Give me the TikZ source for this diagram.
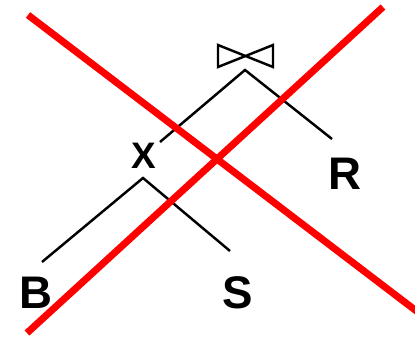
\documentclass[tikz,border=0pt]{standalone}
\usepackage{fontspec}
\setmainfont{Liberation Sans}
\begin{document}
\begin{tikzpicture}[x=0.02cm,y=-0.02cm,
  lbl/.style={font=\bfseries\fontsize{26}{26}\selectfont,inner sep=0pt},
  edge/.style={line width=1.4pt},
  strike/.style={red,line width=4pt}]
\clip (0,0) rectangle (415,340);
% join symbol and tree
\draw[edge,line join=miter] (218,45)--(273,67)--(273,45)--(218,67)--cycle;
\coordinate (join) at (245,70);\coordinate (jl) at (160,142);\coordinate (jr) at (332,139);
\coordinate (prod) at (143,178);\coordinate (pl) at (42,262);\coordinate (pr) at (230,251);
\node[lbl,font=\bfseries\fontsize{21}{21}\selectfont] (x) at (144,156) {X};
\node[lbl] (r) at (345,174) {R};
\node[lbl] (b) at (36,293) {B};
\node[lbl] (s) at (238,293) {S};
\draw[edge] (jl)--(join)--(jr);
\draw[edge] (pl)--(prod)--(pr);
% crossing out
\coordinate (a1) at (28,15);\coordinate (a2) at (440,329);
\coordinate (b1) at (383,7);\coordinate (b2) at (27,333);
\draw[strike] (a1)--(a2);
\draw[strike] (b1)--(b2);
\end{tikzpicture}
\end{document}
